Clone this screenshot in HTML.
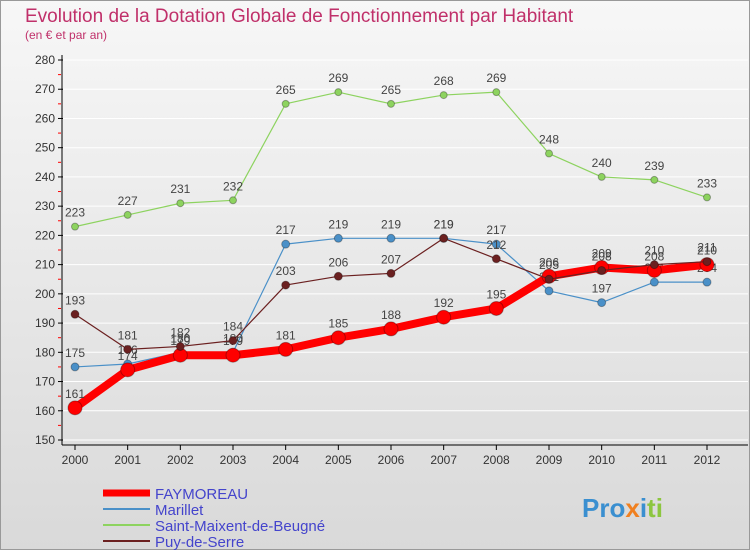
<!DOCTYPE html>
<html><head><meta charset="utf-8"><style>
body{margin:0;width:750px;height:550px;overflow:hidden;font-family:"Liberation Sans",sans-serif}
</style></head><body>
<svg width="750" height="550" xmlns="http://www.w3.org/2000/svg">
<defs><linearGradient id="bg" x1="0" y1="0" x2="0" y2="1"><stop offset="0" stop-color="#f7f7f7"/><stop offset="1" stop-color="#d9d9d9"/></linearGradient></defs>
<rect x="0.5" y="0.5" width="749" height="549" fill="url(#bg)" stroke="#999"/>
<text x="25" y="22" font-size="19" fill="#c0306a">Evolution de la Dotation Globale de Fonctionnement par Habitant</text>
<text x="25" y="39" font-size="12" fill="#c0306a">(en € et par an)</text>
<g id="axes"></g><g id="series"></g>
<g>
<line x1="103" y1="493" x2="150" y2="493" stroke="#f00" stroke-width="7"/>
<text x="155" y="499" font-size="15" fill="#4444cc">FAYMOREAU</text>
<line x1="103" y1="509" x2="150" y2="509" stroke="#4a90c8" stroke-width="2"/>
<text x="155" y="515" font-size="15" fill="#4444cc">Marillet</text>
<line x1="103" y1="525" x2="150" y2="525" stroke="#8dd35f" stroke-width="2"/>
<text x="155" y="531" font-size="15" fill="#4444cc">Saint-Maixent-de-Beugné</text>
<line x1="103" y1="541" x2="150" y2="541" stroke="#6b2020" stroke-width="2"/>
<text x="155" y="547" font-size="15" fill="#4444cc">Puy-de-Serre</text>
</g>
<text x="582" y="517" font-size="26" font-weight="bold" fill="#3a8fd0">Pro<tspan fill="#f08020">x</tspan><tspan fill="#3a8fd0">i</tspan><tspan fill="#8cc63f">ti</tspan></text>
</svg>
<script>
const years=[2000,2001,2002,2003,2004,2005,2006,2007,2008,2009,2010,2011,2012];
const yTicks=[150,160,170,180,190,200,210,220,230,240,250,260,270,280];
const faymoreau=[161,174,179,179,181,185,188,192,195,206,209,208,210];
const marillet=[175,176,180,180,217,219,219,219,217,201,197,204,204];
const saintMaixent=[223,227,231,232,265,269,265,268,269,248,240,239,233];
const puyDeSerre=[193,181,182,184,203,206,207,219,212,205,208,210,211];
const NS="http://www.w3.org/2000/svg";
const X=i=>75+i*(707-75)/(years.length-1);
const Y=v=>440-(v-150)*380/130;
function mk(t,a,p){const e=document.createElementNS(NS,t);for(const k in a)e.setAttribute(k,a[k]);p.appendChild(e);return e;}
const ax=document.getElementById('axes');
yTicks.forEach(v=>{
 const l=mk('line',{x1:60,x2:748,y1:Y(v),y2:Y(v),stroke:'#fff','stroke-width':1},ax);
 
 
 mk('line',{x1:58,x2:63,y1:Y(v),y2:Y(v),stroke:'#000'},ax);
 if(v<280)mk('line',{x1:58,x2:61,y1:Y(v+5),y2:Y(v+5),stroke:'#f00'},ax);
 const t=mk('text',{x:55,y:Y(v)+4,'text-anchor':'end','font-size':12,fill:'#333'},ax);t.textContent=v;
 
 
});
mk('line',{x1:62,x2:62,y1:55,y2:445,stroke:'#000'},ax);
mk('line',{x1:62,x2:748,y1:445,y2:445,stroke:'#000'},ax);
years.forEach((y,i)=>{
 mk('line',{x1:X(i),x2:X(i),y1:445,y2:450,stroke:'#000'},ax);
 const t=mk('text',{x:X(i),y:464,'text-anchor':'middle','font-size':12,fill:'#333'},ax);t.textContent=y;
 
 
});
const sg=document.getElementById('series');
function series(name,vals,color,w,r){
 const g=mk('g',{},sg);
 
 
 mk('polyline',{points:vals.map((v,i)=>X(i)+','+Y(v)).join(' '),fill:'none',stroke:color,'stroke-width':w,'stroke-linejoin':'round'},g);
 vals.forEach((v,i)=>{
  const c=mk('circle',{cx:X(i),cy:Y(v),r:r,fill:color,stroke:'rgba(0,0,0,0.3)'},g);
  
  
  const t=mk('text',{x:X(i),y:Y(v)-10,'text-anchor':'middle','font-size':12,fill:'#444'},g);t.textContent=v;
 });
}
series('saint-maixent',saintMaixent,'#8dd35f',1.2,3.5);
series('marillet',marillet,'#4a90c8',1.2,4);
series('faymoreau',faymoreau,'#f00',8,7);
series('puy-de-serre',puyDeSerre,'#6b2020',1.2,4);
</script>
</body></html>
